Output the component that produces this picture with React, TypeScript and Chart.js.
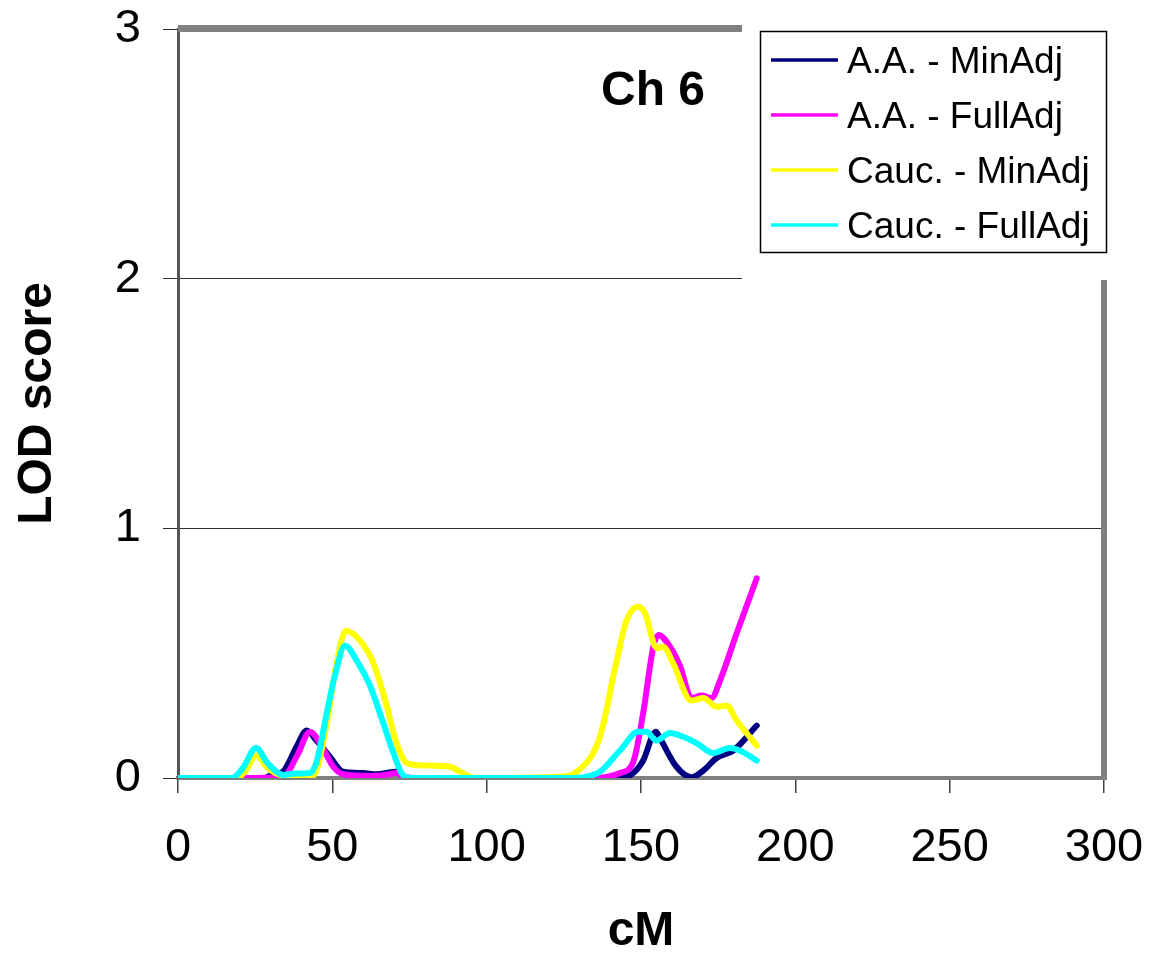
import React, { useEffect, useRef } from "react";
import { Chart, registerables } from "chart.js";

Chart.register(...registerables);

// [cM, LOD score]
const aaMinAdj: [number, number][] = [
  [0, 0], [28, 0], [30, 0.01], [34, 0.025], [38.4, 0.125], [41.7, 0.19], [44.9, 0.15],
  [49.2, 0.085], [53.5, 0.025], [60, 0.02], [64.3, 0.015], [70.8, 0.025], [73, 0.005],
  [76, 0], [143, 0], [147.5, 0.02], [150.7, 0.07], [154.8, 0.185], [156.1, 0.16],
  [161.5, 0.045], [166.4, 0.003], [170.2, 0.03], [174.5, 0.08], [179.9, 0.11], [187.5, 0.21],
];
const aaFullAdj: [number, number][] = [
  [0, 0], [21, 0], [34, 0.003], [38.4, 0.085], [42.8, 0.185], [46, 0.14], [50.3, 0.045],
  [53.5, 0.015], [62, 0.008], [67, 0.012], [70.8, 0.02], [73, 0.005], [76, 0], [134.5, 0],
  [143.2, 0.02], [147.5, 0.065], [150.7, 0.26], [154, 0.526], [155.6, 0.573], [159.4, 0.526],
  [162.6, 0.45], [166.4, 0.32], [169.6, 0.33], [172.8, 0.32], [175.6, 0.39], [181, 0.58],
  [187.5, 0.8],
];
const caucMinAdj: [number, number][] = [
  [0, 0], [19, 0], [22, 0.03], [25.3, 0.09], [29, 0.04], [34.5, 0.01], [43.8, 0.01],
  [48.2, 0.22], [51.4, 0.46], [54.4, 0.59], [59, 0.55], [63.3, 0.46], [67.6, 0.29],
  [70.8, 0.14], [74.1, 0.06], [79.5, 0.05], [88.1, 0.045], [91.4, 0.025], [94.6, 0.005],
  [98, 0], [123.7, 0.005], [129.2, 0.025], [136.7, 0.165], [142.1, 0.47], [145.3, 0.63],
  [149.1, 0.686], [151.3, 0.66], [155.1, 0.52], [157.2, 0.526], [160.4, 0.46], [166.3, 0.31],
  [170.2, 0.32], [174.5, 0.285], [177.7, 0.29], [181, 0.23], [187.5, 0.13],
];
const caucFullAdj: [number, number][] = [
  [0, 0], [17.4, 0], [21, 0.04], [25.3, 0.12], [29, 0.06], [34.1, 0.012], [38, 0.018],
  [42.8, 0.02], [45, 0.07], [48.2, 0.26], [51, 0.42], [54.1, 0.53], [57.9, 0.47],
  [62.2, 0.37], [66.5, 0.22], [69.8, 0.1], [73, 0.01], [76, 0], [128, 0], [132.4, 0.005],
  [136.7, 0.025], [143.2, 0.11], [149.1, 0.185], [151.8, 0.185], [155, 0.15], [159.4, 0.18],
  [163.7, 0.165], [168, 0.14], [173.4, 0.1], [178.8, 0.12], [182, 0.11], [187.5, 0.07],
];

const seriesLabels = ["A.A. - MinAdj", "A.A. - FullAdj", "Cauc. - MinAdj", "Cauc. - FullAdj"];
const seriesColors = ["#000080", "#FF00FF", "#FFFF00", "#00FFFF"];
const xTicks = [0, 50, 100, 150, 200, 250, 300];
const yTicks = [0, 1, 2, 3];
const chartTitle = "Ch 6";
const xTitle = "cM";
const yTitle = "LOD score";

const FONT = "'Liberation Sans', Arial, sans-serif";

const zeroPad = (scale: any) => {
  scale.paddingLeft = 0;
  scale.paddingRight = 0;
  scale.paddingTop = 0;
  scale.paddingBottom = 0;
};

const decorPlugin = {
  id: "decor",
  afterDraw(chart: any) {
    const ctx = chart.ctx;
    const { left, right, top, bottom } = chart.chartArea;
    ctx.save();
    // top & right frame
    ctx.fillStyle = "#808080";
    ctx.fillRect(left, top - 4, 742 - left, 7);
    ctx.fillRect(right - 3, 280, 6, bottom - 280 + 2);
    // legend background
    ctx.fillStyle = "#ffffff";
    ctx.fillRect(742, top - 8, right + 8 - 742, 280 - (top - 8));
    // legend box
    ctx.strokeStyle = "#000000";
    ctx.lineWidth = 1.5;
    ctx.strokeRect(760.5, 31.5, 346, 221);
    ctx.font = `37px ${FONT}`;
    ctx.textAlign = "left";
    ctx.textBaseline = "alphabetic";
    seriesLabels.forEach((lab, i) => {
      const y = 60 + i * 55;
      ctx.strokeStyle = seriesColors[i];
      ctx.lineWidth = 3.5;
      ctx.beginPath();
      ctx.moveTo(771, y);
      ctx.lineTo(838, y);
      ctx.stroke();
      ctx.fillStyle = "#000";
      ctx.fillText(lab, 847, y + 13);
    });
    // Chart label
    ctx.font = `bold 48px ${FONT}`;
    ctx.textAlign = "center";
    ctx.fillStyle = "#000";
    ctx.fillText(chartTitle, 653, 105);
    ctx.restore();
  },
};

export default function App() {
  const ref = useRef<HTMLCanvasElement>(null);
  useEffect(() => {
    if (!ref.current) return;
    const series = [aaMinAdj, aaFullAdj, caucMinAdj, caucFullAdj];
    const chart = new Chart(ref.current, {
      type: "line",
      data: {
        datasets: series.map((s, i) => ({
          label: seriesLabels[i],
          data: s.map(([x, y]) => ({ x, y })),
          borderColor: seriesColors[i],
          backgroundColor: seriesColors[i],
          borderWidth: 6,
          pointRadius: 0,
          fill: false,
          cubicInterpolationMode: "monotone" as const,
          borderJoinStyle: "round" as const,
          borderCapStyle: "round" as const,
          order: 3 - i,
        })),
      },
      options: {
        animation: false,
        responsive: false,
        layout: { padding: { left: 0, top: 29, right: 48, bottom: 0 } },
        plugins: { legend: { display: false }, tooltip: { enabled: false } },
        scales: {
          x: {
            type: "linear",
            min: 0,
            max: 300,
            afterBuildTicks: (scale: any) => {
              scale.ticks = xTicks.map((v) => ({ value: v }));
            },
            afterFit: (scale: any) => {
              scale.height = 178;
              zeroPad(scale);
            },
            grid: {
              drawOnChartArea: false,
              drawTicks: true,
              tickLength: 15,
              color: "#404040",
              lineWidth: 1.5,
            },
            border: { display: true, color: "#808080", width: 4 },
            ticks: {
              padding: 27,
              color: "#000",
              font: { family: FONT, size: 47 },
              maxRotation: 0,
            },
            title: {
              display: true,
              text: xTitle,
              color: "#000",
              font: { family: FONT, size: 48, weight: "bold", lineHeight: 1 },
              padding: { top: 0, bottom: 0 },
            },
          },
          y: {
            type: "linear",
            min: 0,
            max: 3,
            afterBuildTicks: (scale: any) => {
              scale.ticks = yTicks.map((v) => ({ value: v }));
            },
            afterFit: (scale: any) => {
              scale.width = 178;
              zeroPad(scale);
            },
            grid: {
              drawOnChartArea: true,
              drawTicks: true,
              tickLength: 15,
              color: "#303030",
              lineWidth: 1,
            },
            border: { display: true, color: "#555555", width: 3 },
            ticks: {
              padding: 22,
              color: "#000",
              font: { family: FONT, size: 47 },
            },
            title: {
              display: true,
              text: yTitle,
              color: "#000",
              font: { family: FONT, size: 48, weight: "bold", lineHeight: 1.2 },
              padding: { top: 9, bottom: 0 },
            },
          },
        },
      },
      plugins: [decorPlugin],
    } as any);
    return () => chart.destroy();
  }, []);
  return (
    <div style={{ position: "absolute", left: 0, top: 0, width: 1152, height: 956, background: "#fff" }}>
      <canvas ref={ref} width={1152} height={956} style={{ display: "block" }} />
    </div>
  );
}
